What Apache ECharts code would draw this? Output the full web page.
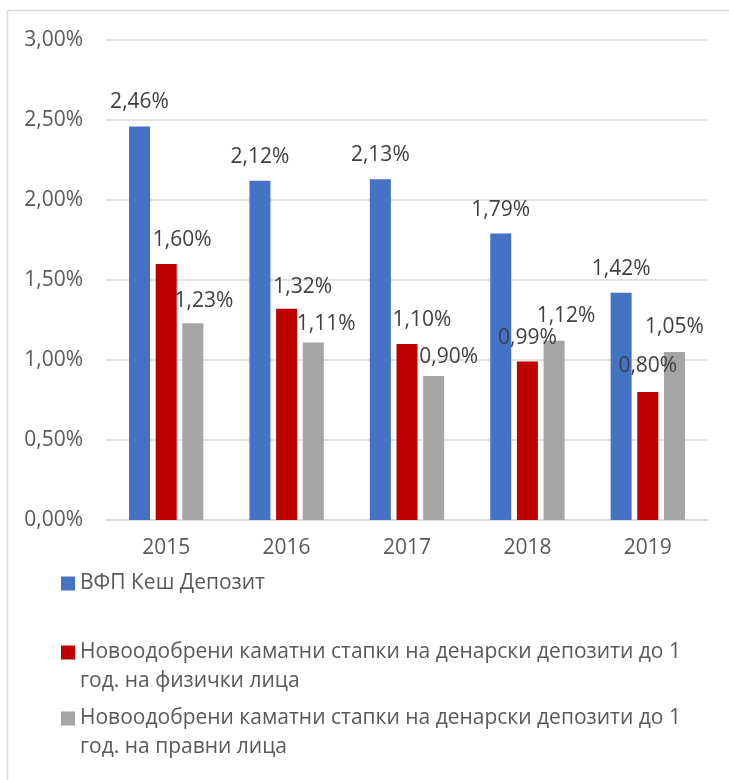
<!DOCTYPE html>
<html>
<head>
<meta charset="utf-8">
<script src="https://cdn.jsdelivr.net/npm/echarts@6/dist/echarts.min.js"></script>
<style>
  html, body { margin: 0; padding: 0; background: #ffffff; }
  #chart { width: 729px; height: 780px; }
</style>
</head>
<body>
<div id="chart"></div>
<script>
// Years on the category axis
const years = ['2015', '2016', '2017', '2018', '2019'];

// Rates in percent
const cashDeposit = [2.46, 2.12, 2.13, 1.79, 1.42];
const householdRates = [1.60, 1.32, 1.10, 0.99, 0.80];
const corporateRates = [1.23, 1.11, 0.90, 1.12, 1.05];

// Series names
const seriesNames = [
  'ВФП Кеш Депозит',
  'Новоодобрени каматни стапки на денарски депозити до 1\nгод. на физички лица',
  'Новоодобрени каматни стапки на денарски депозити до 1\nгод. на правни лица'
];

// Value-axis ticks
const yTicks = [0, 0.5, 1.0, 1.5, 2.0, 2.5, 3.0];

// Hand-placed nudges for the value labels, [dx, dy] in px
const labelNudge = [
  [[0, 0], [0, 0], [0, 0], [0, 0], [0, 0]],
  [[16, 0], [16, 2], [15, 0], [0, 0], [0, -2]],
  [[11, 2], [13, 6], [15, 5], [12, -1], [0, -1]]
];

const colors = ['#4472C4', '#C00000', '#A5A5A5'];
const FONT = '"Open Sans", "Noto Sans", sans-serif';
const FS = 21;

const fmt = v => v.toFixed(2).replace('.', ',') + '%';

const chart = echarts.init(document.getElementById('chart'), null, { renderer: 'canvas' });

const valueSets = [cashDeposit, householdRates, corporateRates];

const series = valueSets.map((vals, si) => ({
  name: seriesNames[si],
  type: 'bar',
  barWidth: 21,
  barGap: '27%',
  itemStyle: { color: colors[si] },
  data: vals.map((v, i) => ({
    value: v,
    label: { offset: [labelNudge[si][i][0], -14 + labelNudge[si][i][1]] }
  })),
  label: {
    show: true,
    position: 'top',
    distance: 0,
    color: '#404040',
    fontFamily: FONT,
    fontSize: FS,
    lineHeight: 20,
    formatter: p => fmt(p.value)
  }
}));

// One legend block per series; two-line entries get a leading blank line
// so the swatch sits beside the first line of text.
const legendText = { color: '#595959', fontFamily: FONT, fontSize: FS, lineHeight: 29 };
const legendBase = {
  orient: 'vertical',
  left: 61,
  padding: 0,
  itemWidth: 14,
  itemHeight: 14,
  icon: 'rect',
  itemGap: 0,
  selectedMode: false,
  textStyle: legendText
};

chart.setOption({
  animation: false,
  backgroundColor: '#ffffff',
  grid: { left: 106, right: 21, top: 40, bottom: 260, containLabel: false },
  xAxis: {
    type: 'category',
    data: years,
    axisTick: { show: false },
    axisLine: { show: true, lineStyle: { color: '#d9d9d9', width: 1.5 } },
    axisLabel: { color: '#595959', fontFamily: FONT, fontSize: FS, margin: 18 }
  },
  yAxis: {
    type: 'value',
    min: yTicks[0],
    max: yTicks[yTicks.length - 1],
    interval: yTicks[1] - yTicks[0],
    axisLine: { show: false },
    axisTick: { show: false },
    splitLine: { lineStyle: { color: '#d9d9d9', width: 1.5 } },
    axisLabel: { color: '#595959', fontFamily: FONT, fontSize: FS, margin: 23, formatter: v => fmt(v) }
  },
  legend: [
    Object.assign({}, legendBase, {
      top: 569,
      data: [seriesNames[0]]
    }),
    Object.assign({}, legendBase, {
      top: 609,
      data: [seriesNames[1]],
      formatter: name => '\n' + name
    }),
    Object.assign({}, legendBase, {
      top: 675,
      data: [seriesNames[2]],
      formatter: name => '\n' + name
    })
  ],
  graphic: [{
    type: 'rect',
    silent: true,
    z: -1,
    shape: { x: 7.5, y: 10.5, width: 900, height: 900 },
    style: { fill: 'none', stroke: '#d9d9d9', lineWidth: 1.5 }
  }],
  series: series
});
</script>
</body>
</html>
